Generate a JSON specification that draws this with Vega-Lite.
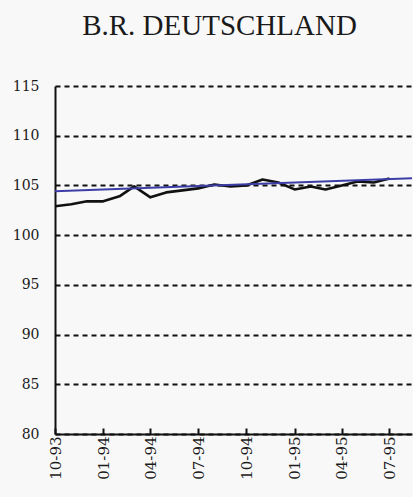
{
  "$schema": "https://vega.github.io/schema/vega-lite/v6.json",
  "autosize": "none",
  "width": 357,
  "height": 348,
  "padding": {"left": 55, "top": 86, "right": 1, "bottom": 63},
  "background": "#f8f8f8",
  "title": {
    "text": "B.R. DEUTSCHLAND",
    "font": "Liberation Serif",
    "fontSize": 29,
    "fontWeight": "normal",
    "color": "#1a1a1a",
    "anchor": "middle",
    "frame": "group",
    "dx": -14,
    "offset": 38
  },
  "config": {
    "view": {"stroke": null},
    "axis": {"labelFont": "DejaVu Serif", "labelColor": "#1a1a1a"}
  },
  "data": {
    "values": [
      {"date": "1993-10-01", "series": "Index", "value": 102.9},
      {"date": "1993-11-01", "series": "Index", "value": 103.1},
      {"date": "1993-12-01", "series": "Index", "value": 103.4},
      {"date": "1994-01-01", "series": "Index", "value": 103.4},
      {"date": "1994-02-01", "series": "Index", "value": 103.9},
      {"date": "1994-03-01", "series": "Index", "value": 104.9},
      {"date": "1994-04-01", "series": "Index", "value": 103.8},
      {"date": "1994-05-01", "series": "Index", "value": 104.3},
      {"date": "1994-06-01", "series": "Index", "value": 104.5},
      {"date": "1994-07-01", "series": "Index", "value": 104.7},
      {"date": "1994-08-01", "series": "Index", "value": 105.1},
      {"date": "1994-09-01", "series": "Index", "value": 104.9},
      {"date": "1994-10-01", "series": "Index", "value": 105.0},
      {"date": "1994-11-01", "series": "Index", "value": 105.6},
      {"date": "1994-12-01", "series": "Index", "value": 105.3},
      {"date": "1995-01-01", "series": "Index", "value": 104.6},
      {"date": "1995-02-01", "series": "Index", "value": 104.9},
      {"date": "1995-03-01", "series": "Index", "value": 104.6},
      {"date": "1995-04-01", "series": "Index", "value": 105.0},
      {"date": "1995-05-01", "series": "Index", "value": 105.4},
      {"date": "1995-06-01", "series": "Index", "value": 105.3},
      {"date": "1995-07-01", "series": "Index", "value": 105.7},
      {"date": "1993-09-25", "series": "Trend", "value": 104.4},
      {"date": "1995-09-01", "series": "Trend", "value": 105.75}
    ]
  },
  "mark": {"type": "line", "clip": true, "strokeJoin": "round"},
  "encoding": {
    "x": {
      "field": "date",
      "type": "temporal",
      "scale": {
        "type": "utc",
        "domain": [
          {"year": 1993, "month": 10, "date": 1, "utc": true},
          {"year": 1995, "month": 8, "date": 13, "utc": true}
        ]
      },
      "axis": {
        "title": null,
        "values": [
          {"year": 1993, "month": 10, "date": 1, "utc": true},
          {"year": 1994, "month": 1, "date": 1, "utc": true},
          {"year": 1994, "month": 4, "date": 1, "utc": true},
          {"year": 1994, "month": 7, "date": 1, "utc": true},
          {"year": 1994, "month": 10, "date": 1, "utc": true},
          {"year": 1995, "month": 1, "date": 1, "utc": true},
          {"year": 1995, "month": 4, "date": 1, "utc": true},
          {"year": 1995, "month": 7, "date": 1, "utc": true}
        ],
        "labelExpr": "utcFormat(datum.value, '%m-%y')",
        "labelAngle": 270,
        "labelAlign": "right",
        "labelBaseline": "middle",
        "labelFontSize": 15,
        "labelPadding": 8,
        "labelFlush": false,
        "labelOverlap": false,
        "domainColor": "#111",
        "domainWidth": 2,
        "tickColor": "#111",
        "tickWidth": 2,
        "tickSize": -6,
        "grid": false
      }
    },
    "y": {
      "field": "value",
      "type": "quantitative",
      "scale": {"domain": [80, 115], "nice": false, "zero": false},
      "axis": {
        "title": null,
        "values": [80, 85, 90, 95, 100, 105, 110, 115],
        "labelFontSize": 14,
        "labelPadding": 16,
        "ticks": false,
        "domainColor": "#111",
        "domainWidth": 2,
        "grid": true,
        "gridColor": "#111",
        "gridWidth": 2,
        "gridDash": [5, 4]
      }
    },
    "color": {
      "field": "series",
      "type": "nominal",
      "scale": {"domain": ["Index", "Trend"], "range": ["#111111", "#3d3da8"]},
      "legend": null
    },
    "strokeWidth": {
      "field": "series",
      "type": "nominal",
      "scale": {"domain": ["Index", "Trend"], "range": [2.6, 2]},
      "legend": null
    }
  }
}
